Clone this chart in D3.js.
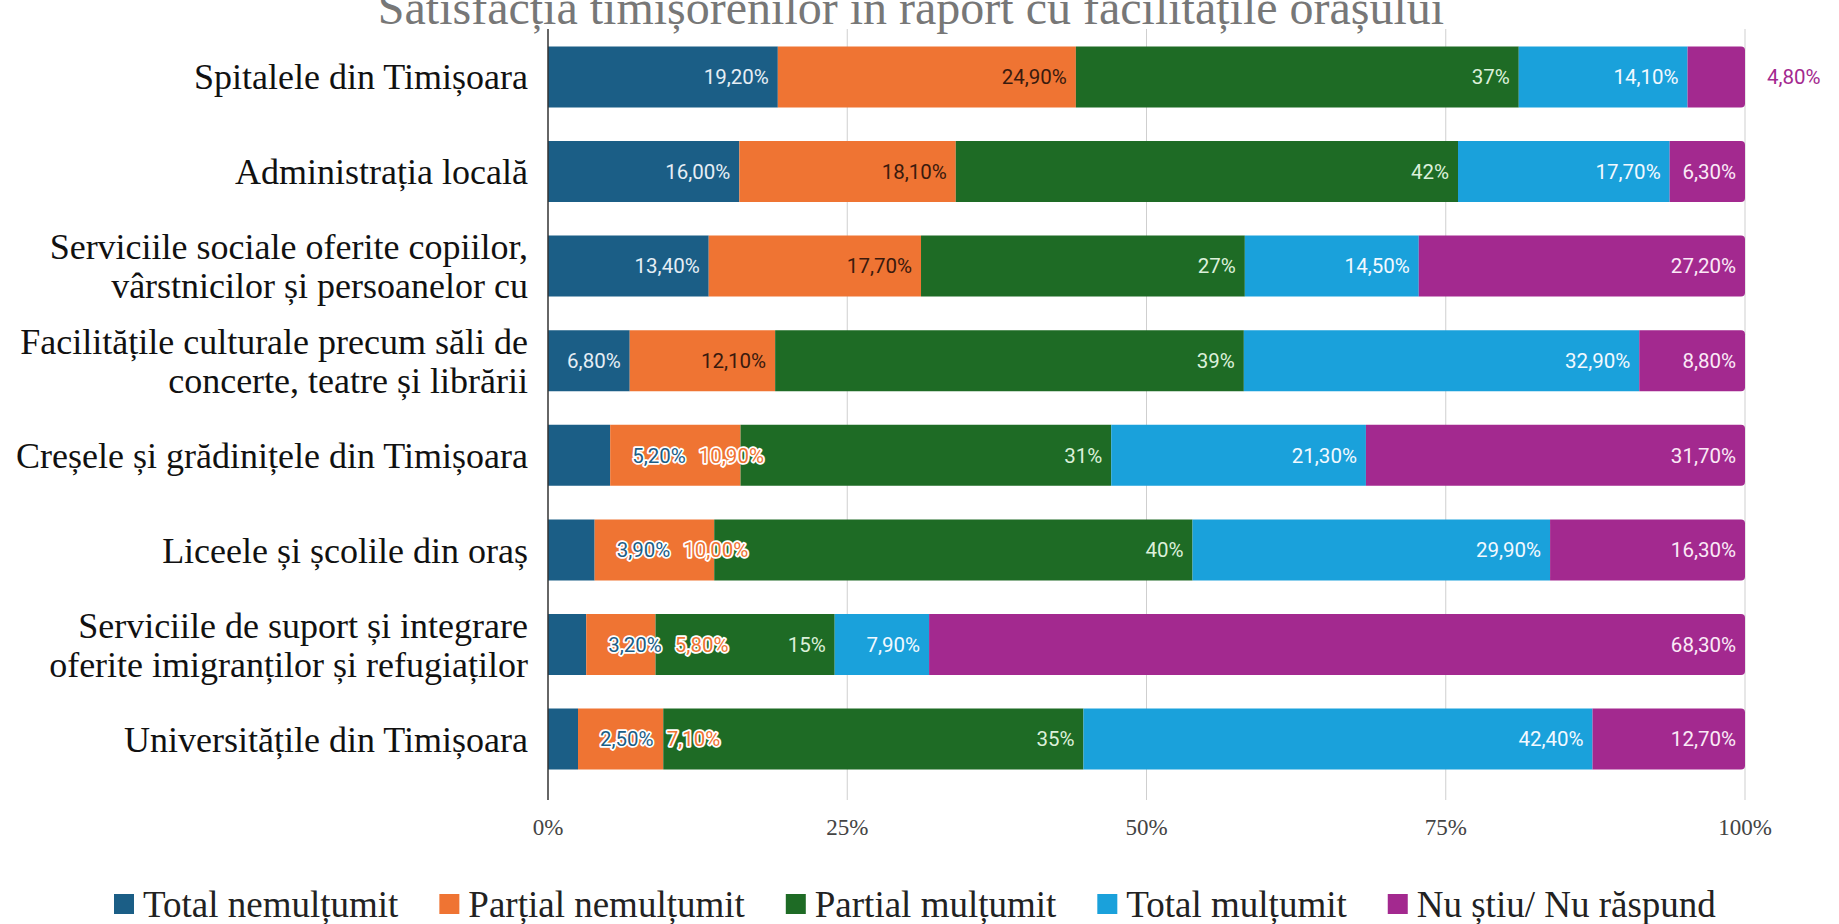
<!DOCTYPE html>
<html>
<head>
<meta charset="utf-8">
<script src="https://cdn.jsdelivr.net/npm/d3@7"></script>
<style>
  body { margin: 0; background: #fff; }
  svg { display: block; }
</style>
</head>
<body>
<div id="chart"></div>
<script>
// DATA
var categories = [
  "Spitalele din Timișoara",
  "Administrația locală",
  "Serviciile sociale oferite copiilor,\nvârstnicilor și persoanelor cu",
  "Facilitățile culturale precum săli de\nconcerte, teatre și librării",
  "Creșele și grădinițele din Timișoara",
  "Liceele și școlile din oraș",
  "Serviciile de suport și integrare\noferite imigranților și refugiaților",
  "Universitățile din Timișoara"
];
var seriesNames = ["Total nemulțumit", "Parțial nemulțumit", "Partial mulțumit", "Total mulțumit", "Nu știu/ Nu răspund"];
var totalNemultumit   = [19.2, 16.0, 13.4, 6.8, 5.2, 3.9, 3.2, 2.5];
var partialNemultumit = [24.9, 18.1, 17.7, 12.1, 10.9, 10.0, 5.8, 7.1];
var partialMultumit   = [37, 42, 27, 39, 31, 40, 15, 35];
var totalMultumit     = [14.1, 17.7, 14.5, 32.9, 21.3, 29.9, 7.9, 42.4];
var nuStiu            = [4.8, 6.3, 27.2, 8.8, 31.7, 16.3, 68.3, 12.7];
var tickValues = [0, 0.25, 0.5, 0.75, 1];
var title = "Satisfacția timișorenilor în raport cu facilitățile orașului";

var colors     = ["#1b5e86", "#ef7433", "#1e6b25", "#1aa1db", "#a3298f"];
var labelFills = ["#e6eef5", "#3a1a0e", "#dcf0da", "#f2f9ff", "#fbe9f7"];

var width = 1839, height = 924;
var x0 = 548, x1 = 1745;

var svg = d3.select("#chart").append("svg")
    .attr("width", width)
    .attr("height", height);

// build table for the stack
var seriesValues = [totalNemultumit, partialNemultumit, partialMultumit, totalMultumit, nuStiu];
var table = categories.map(function(c, i) {
  var row = {cat: c};
  seriesNames.forEach(function(s, j) { row[s] = seriesValues[j][i]; });
  return row;
});

var stack = d3.stack().keys(seriesNames).offset(d3.stackOffsetExpand);
var stacked = stack(table);

var x = d3.scaleLinear().domain([0, 1]).range([x0, x1]);
var y = d3.scaleBand().domain(categories).range([25, 791])
    .paddingInner(0.355).paddingOuter(0.226);

var ro = d3.formatLocale({decimal: ",", thousands: ".", grouping: [3], currency: ["", ""]});
var fmt2 = ro.format(".2f"), fmt0 = ro.format(".0f");
function labelText(j, v) { return (j == 2 ? fmt0(v) : fmt2(v)) + "%"; }

// title (clipped at the top, as in the source)
svg.append("text")
    .attr("x", 911).attr("y", 24)
    .attr("text-anchor", "middle")
    .style("font-family", "'Liberation Serif', 'Times New Roman', serif")
    .style("font-size", "48px")
    .style("fill", "#777")
    .text(title);

// grid
var grid = svg.append("g");
grid.selectAll("line")
    .data(tickValues.slice(1))
  .enter().append("line")
    .attr("x1", function(d) { return x(d); })
    .attr("x2", function(d) { return x(d); })
    .attr("y1", 29).attr("y2", 800)
    .style("stroke", "#cfcfcf")
    .style("stroke-width", 1);

// bars
var layer = svg.append("g").selectAll("g")
    .data(stacked)
  .enter().append("g")
    .style("fill", function(d, i) { return colors[i]; });

layer.selectAll("path")
    .data(function(d) { return d.map(function(p) { return {p: p, key: d.key, idx: d.index}; }); })
  .enter().append("path")
    .attr("d", function(d) {
      var a = x(d.p[0]), b = x(d.p[1]), t = y(d.p.data.cat), h = y.bandwidth();
      if (d.idx == seriesNames.length - 1) {
        var r = 4;
        return "M" + a + "," + t + "H" + (b - r) + "Q" + b + "," + t + " " + b + "," + (t + r) +
               "V" + (t + h - r) + "Q" + b + "," + (t + h) + " " + (b - r) + "," + (t + h) + "H" + a + "Z";
      }
      return "M" + a + "," + t + "H" + b + "V" + (t + h) + "H" + a + "Z";
    });

// axis line at 0%
svg.append("line")
    .attr("x1", x(0)).attr("x2", x(0))
    .attr("y1", 29).attr("y2", 800)
    .style("stroke", "#333").style("stroke-width", 1.5);

// tick labels
svg.append("g").selectAll("text")
    .data(tickValues)
  .enter().append("text")
    .attr("x", function(d) { return x(d); })
    .attr("y", 835)
    .attr("text-anchor", "middle")
    .style("font-family", "'Liberation Serif', 'Times New Roman', serif")
    .style("font-size", "23px")
    .style("fill", "#444")
    .text(function(d) { return Math.round(d * 100) + "%"; });

// category labels
var catG = svg.append("g").selectAll("text")
    .data(categories)
  .enter().append("text")
    .attr("text-anchor", "end")
    .style("font-family", "'Liberation Serif', 'Times New Roman', serif")
    .style("font-size", "36px")
    .style("fill", "#111");

catG.each(function(c) {
  var lines = c.split("\n");
  var cy = y(c) + y.bandwidth() / 2;
  var lh = 39;
  var el = d3.select(this);
  lines.forEach(function(l, k) {
    el.append("tspan")
      .attr("x", 528)
      .attr("y", cy + (k - (lines.length - 1) / 2) * lh)
      .attr("dy", "0.35em")
      .text(l);
  });
});

// value labels
var labG = svg.append("g");
categories.forEach(function(c, i) {
  var chainEnd = null;
  var cy = y(c) + y.bandwidth() / 2;
  stacked.forEach(function(s, j) {
    var v = seriesValues[j][i];
    var a = x(s[i][0]), b = x(s[i][1]);
    var t = labG.append("text")
      .attr("y", cy).attr("dy", "0.36em")
      .style("font-family", "Roboto, 'Open Sans', sans-serif")
      .style("font-size", "20.5px")
      .text(labelText(j, v));
    var w = t.node().getComputedTextLength();
    var fits = w + 14 <= (b - a);
    var defLeft = b - 9 - w;
    if (!fits || (chainEnd !== null && defLeft < chainEnd + 9)) {
      var left = chainEnd === null ? b + 22 : chainEnd + 13;
      t.attr("x", left)
        .style("fill", colors[j])
        .style("stroke", "#fff")
        .style("stroke-width", 3.5)
        .style("stroke-linejoin", "round")
        .style("paint-order", "stroke");
      chainEnd = left + w;
    } else {
      t.attr("x", defLeft).style("fill", labelFills[j]);
      chainEnd = null;
    }
  });
});

// legend
var legend = svg.append("g");
var lx = 114, ly = 904;
seriesNames.forEach(function(s, j) {
  legend.append("rect")
    .attr("x", lx).attr("y", ly - 10)
    .attr("width", 20).attr("height", 20)
    .style("fill", colors[j]);
  var t = legend.append("text")
    .attr("x", lx + 29).attr("y", ly).attr("dy", "0.35em")
    .style("font-family", "'Liberation Serif', 'Times New Roman', serif")
    .style("font-size", "37px")
    .style("fill", "#222")
    .text(s);
  lx += 29 + t.node().getComputedTextLength() + 41;
});
</script>
</body>
</html>
